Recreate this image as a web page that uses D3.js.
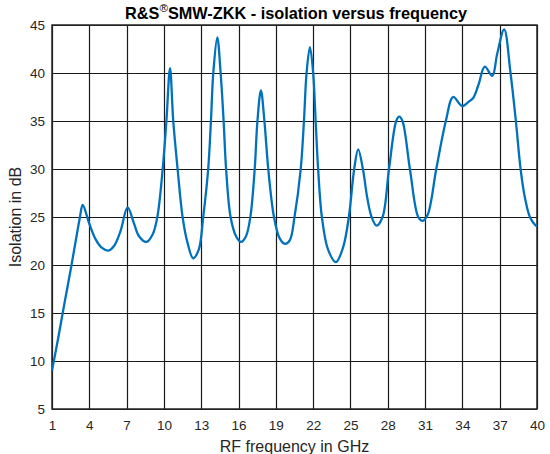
<!DOCTYPE html>
<html>
<head>
<meta charset="utf-8">
<script src="https://cdn.jsdelivr.net/npm/d3@7"></script>
<style>
  body { margin: 0; background: #fff; }
  svg { display: block; font-family: "Liberation Sans", Arial, sans-serif; }
</style>
</head>
<body>
<svg id="chart"></svg>
<script>
// data
let freqGHz = [1, 1.5, 2, 2.5, 3, 3.25, 3.47, 4, 4.5, 5, 5.53, 6, 6.5, 7.08, 7.6, 8, 8.6, 9.1, 9.47, 9.9,
  10.2, 10.49, 10.75, 11.1, 11.5, 11.9, 12.35, 12.8, 13.16, 13.56, 13.78, 13.97, 14.29, 14.56, 14.8, 15.0,
  15.36, 15.8, 16.2, 16.6, 16.95, 17.3, 17.52, 17.8, 18.08, 18.39, 18.85, 19.3, 19.73, 20.13, 20.5, 21.0,
  21.26, 21.47, 21.74, 22.0, 22.2, 22.4, 22.7, 23.2, 23.83, 24.4, 24.87, 25.3, 25.62, 26.0, 26.35, 26.7,
  27.1, 27.58, 28.1, 28.68, 28.92, 29.18, 29.78, 30.45, 30.8, 31.2, 31.9, 32.67, 33.26, 33.98, 34.5, 34.87,
  35.3, 35.8, 36.4, 36.8, 37.36, 37.87, 38.3, 38.68, 39.0, 39.37, 39.7, 40];
let isolationDb = [9.0, 12.4, 16.0, 19.5, 23.2, 25.0, 26.25, 24.3, 22.7, 21.8, 21.5, 22.0, 23.5, 26.0, 24.3, 23.0, 22.4, 23.2, 25.0, 30.0,
  35.0, 40.5, 35.0, 30.0, 25.0, 22.3, 20.7, 21.6, 25.0, 30.0, 35.0, 40.0, 43.7, 40.0, 35.0, 30.0,
  25.0, 23.0, 22.4, 23.0, 25.0, 30.0, 35.0, 38.2, 35.0, 30.0, 25.0, 22.8, 22.2, 22.6, 25.0, 30.0,
  35.0, 40.0, 42.7, 40.0, 35.0, 30.0, 25.0, 21.6, 20.3, 21.8, 25.0, 30.0, 32.05, 30.0, 27.0, 25.0,
  24.1, 25.0, 30.0, 35.0, 35.45, 35.0, 30.0, 25.0, 24.6, 25.2, 30.0, 35.0, 37.5, 36.56, 37.0, 37.4,
  38.8, 40.66, 39.7, 42.0, 44.55, 40.0, 35.0, 30.0, 27.2, 25.2, 24.4, 24.0];
let xTicks = [1, 4, 7, 10, 13, 16, 19, 22, 25, 28, 31, 34, 37, 40];
let yTicks = [5, 10, 15, 20, 25, 30, 35, 40, 45];

let svgWidth = 550;
let svgHeight = 454;
let margin = { top: 25, right: 13, bottom: 45, left: 52 };
let width = svgWidth - margin.left - margin.right;
let height = svgHeight - margin.top - margin.bottom;
let textColor = "#262626";

let svg = d3.select("#chart")
  .attr("width", svgWidth)
  .attr("height", svgHeight);

let g = svg.append("g")
  .attr("transform", "translate(" + margin.left + "," + margin.top + ")");

let x = d3.scaleLinear().domain([1, 40]).range([0, width]);
let y = d3.scaleLinear().domain([5, 45]).range([height, 0]);

//GRID LINES
g.append("g")
  .selectAll("line")
  .data(xTicks)
  .enter()
  .append("line")
  .attr("x1", d => Math.round(x(d)) + 0.5)
  .attr("x2", d => Math.round(x(d)) + 0.5)
  .attr("y1", 0)
  .attr("y2", height)
  .attr("stroke", "#1a1a1a")
  .attr("stroke-width", 1.2);
g.append("g")
  .selectAll("line")
  .data(yTicks)
  .enter()
  .append("line")
  .attr("x1", 0)
  .attr("x2", width)
  .attr("y1", d => Math.round(y(d)) + 0.5)
  .attr("y2", d => Math.round(y(d)) + 0.5)
  .attr("stroke", "#1a1a1a")
  .attr("stroke-width", 1.2);

//AXES
let xAxis = d3.axisBottom(x).tickValues(xTicks).tickSize(0).tickPadding(11);
let yAxis = d3.axisLeft(y).tickValues(yTicks).tickSize(0).tickPadding(7);

let gx = g.append("g")
  .attr("transform", "translate(0," + height + ")")
  .call(xAxis);
let gy = g.append("g").call(yAxis);
[gx, gy].forEach(a => {
  a.select(".domain").remove();
  a.selectAll("text")
    .style("font-size", "13.5px")
    .style("fill", textColor);
});

//FRAME
g.append("rect")
  .attr("x", 0)
  .attr("y", 0)
  .attr("width", width)
  .attr("height", height)
  .attr("fill", "none")
  .attr("stroke", textColor)
  .attr("stroke-width", 1.5);

//CURVE
let line = d3.line()
  .x((d, i) => x(freqGHz[i]))
  .y(d => y(d))
  .curve(d3.curveCatmullRom.alpha(0.5));

g.append("path")
  .datum(isolationDb)
  .attr("fill", "none")
  .attr("stroke", "#0072BD")
  .attr("stroke-width", 2.3)
  .attr("stroke-linejoin", "round")
  .attr("d", line);

//LABELS
let title = svg.append("text")
  .attr("x", 296)
  .attr("y", 19)
  .attr("text-anchor", "middle")
  .style("font-size", "16.3px")
  .style("font-weight", "bold")
  .style("fill", "#000");
title.append("tspan").text("R&S");
title.append("tspan").attr("dy", -7).style("font-size", "11.5px").style("font-weight", "normal").text("®");
title.append("tspan").attr("dy", 7).text("SMW-ZKK - isolation versus frequency");

svg.append("text")
  .attr("x", margin.left + width / 2)
  .attr("y", 452)
  .attr("text-anchor", "middle")
  .style("font-size", "16px")
  .style("fill", textColor)
  .text("RF frequency in GHz");

svg.append("text")
  .attr("transform", "translate(21," + (margin.top + height / 2) + ") rotate(-90)")
  .attr("text-anchor", "middle")
  .style("font-size", "16px")
  .style("fill", textColor)
  .text("Isolation in dB");
</script>
</body>
</html>
